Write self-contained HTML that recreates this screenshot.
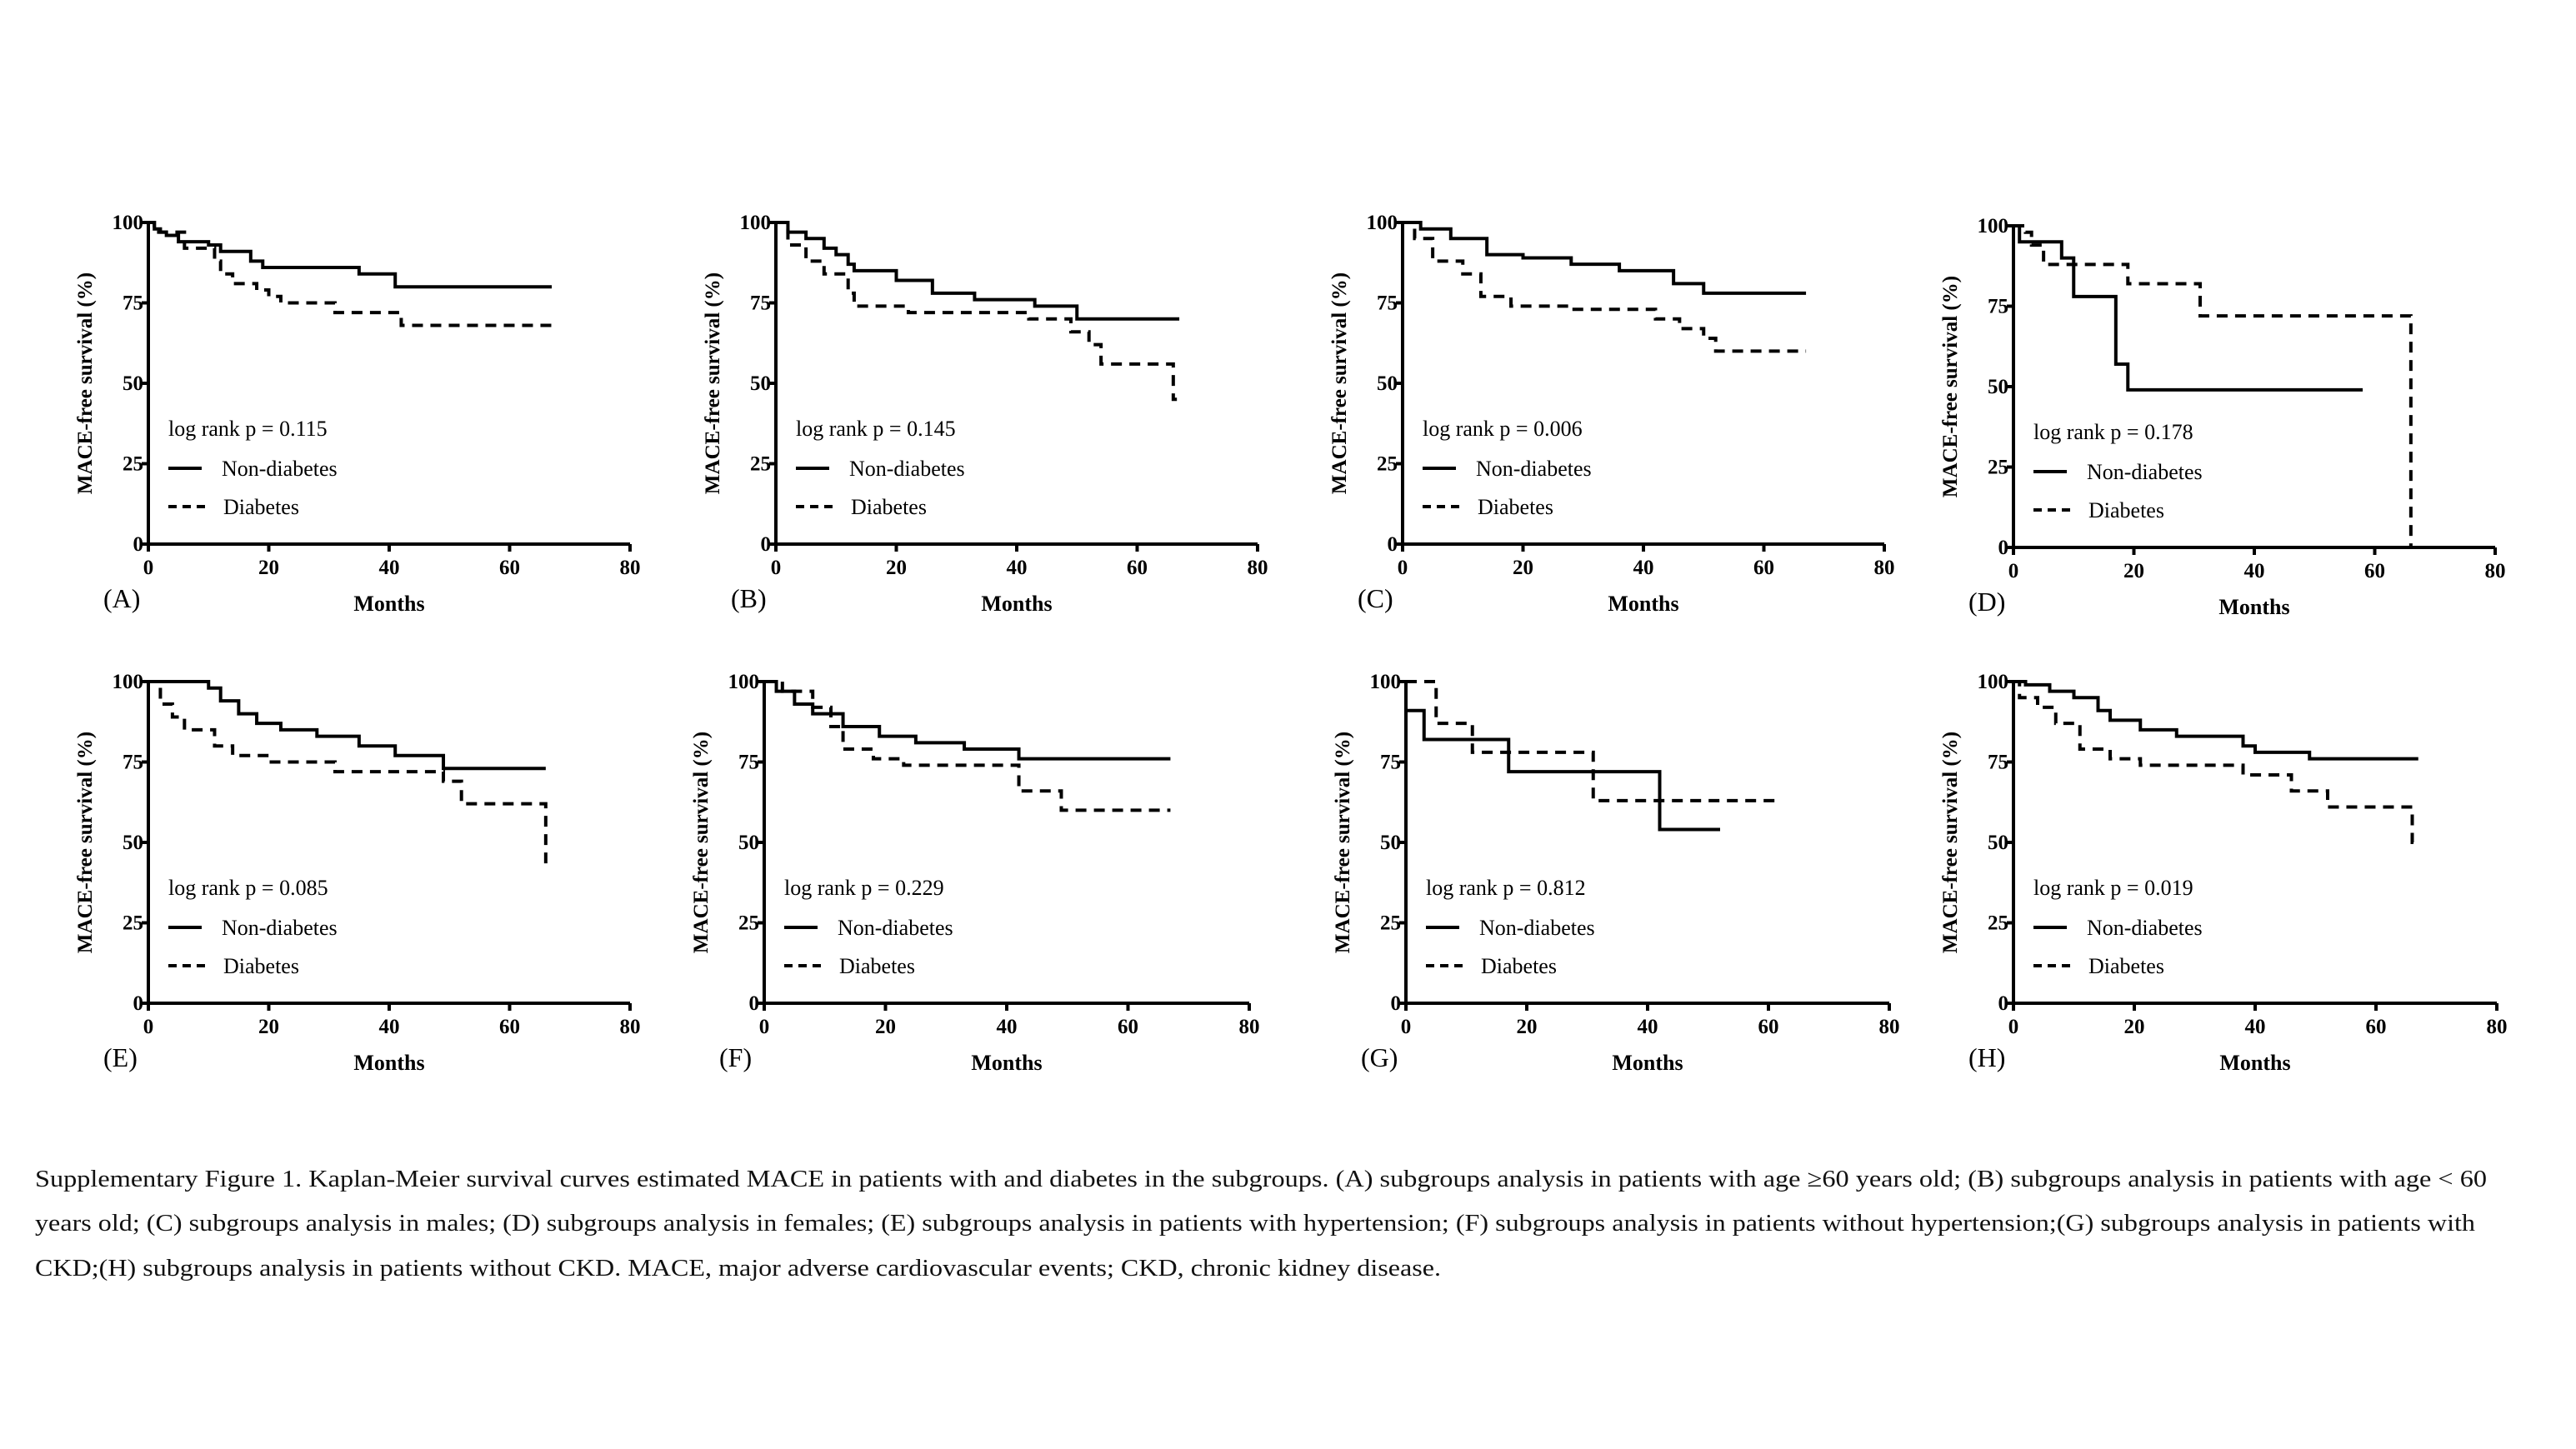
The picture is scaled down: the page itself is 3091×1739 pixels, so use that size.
<!DOCTYPE html>
<html><head><meta charset="utf-8"><style>
html,body{margin:0;padding:0;background:#fff;}
svg{display:block;font-family:"Liberation Serif","Noto Serif CJK SC",serif;}
</style></head><body>
<svg id="fig" width="3091" height="1739" viewBox="0 0 3091 1739" xmlns="http://www.w3.org/2000/svg">
<rect width="3091" height="1739" fill="#fff"/>
<g id="panels"></g>
<g font-size="29" fill="#111">
<text x="42" y="1424" textLength="2942" lengthAdjust="spacingAndGlyphs">Supplementary Figure 1. Kaplan-Meier survival curves estimated MACE in patients with and diabetes in the subgroups. (A) subgroups analysis in patients with age ≥60 years old; (B) subgroups analysis in patients with age &lt; 60</text>
<text x="42" y="1477" textLength="2928" lengthAdjust="spacingAndGlyphs">years old; (C) subgroups analysis in males; (D) subgroups analysis in females; (E) subgroups analysis in patients with hypertension; (F) subgroups analysis in patients without hypertension;(G) subgroups analysis in patients with</text>
<text x="42" y="1531" textLength="1687" lengthAdjust="spacingAndGlyphs">CKD;(H) subgroups analysis in patients without CKD. MACE, major adverse cardiovascular events; CKD, chronic kidney disease.</text>
</g>
</svg>
<script>
const panelLabels=["(A)","(B)","(C)","(D)","(E)","(F)","(G)","(H)"];
const pValues=["0.115","0.145","0.006","0.178","0.085","0.229","0.812","0.019"];
const xTicks=[0,20,40,60,80];
const yTicks=[0,25,50,75,100];
const nonT=[
[0,1,2,3,5,10,12,17,19,35,41,67],
[0,2,5,8,10,12,13,20,26,33,43,50,67],
[0,3,8,14,20,28,36,45,50,67],
[0,1,8,10,17,19,58],
[0,10,12,15,18,22,28,35,41,49,66],
[0,2,5,8,13,19,25,33,42,67],
[0,3,17,42,52],
[0,2,6,10,14,16,21,27,38,40,49,67]];
const nonS=[
[100,98,97,96,94,93,91,88,86,84,80,80],
[100,97,95,92,90,87,85,82,78,76,74,70,70],
[100,98,95,90,89,87,85,81,78,78],
[100,95,90,78,57,49,49],
[100,98,94,90,87,85,83,80,77,73,73],
[100,97,93,90,86,83,81,79,76,76],
[91,82,72,54,54],
[100,99,97,95,91,88,85,83,80,78,76,76]];
const diaT=[
[0,1,6,11,12,14,18,20,22,31,42,67],
[0,2,5,8,12,13,22,42,49,52,54,66,66.6],
[0,2,5,10,13,18,28,42,46,50,52,67],
[0,2,3,5,19,31,66],
[0,2,4,6,11,14,20,31,49,52,66,66.3],
[0,3,8,11,13,18,23,42,49,67],
[0,5,11,31,62],
[0,1,4,7,11,16,21,38,46,52,66,67]];
const diaS=[
[100,97,92,88,84,81,79,77,75,72,68,68],
[100,93,88,84,78,74,72,70,66,62,56,45,45],
[100,95,88,84,77,74,73,70,67,64,60,60],
[100,98,94,88,82,72,0],
[100,93,89,85,80,77,75,72,69,62,42,42],
[100,97,92,86,79,76,74,66,60,60],
[100,87,78,63,63],
[100,95,92,87,79,76,74,71,66,61,50,50]];
const frames=[[178,756,653,267],[931,1509,653,267],[1683,2261,653,267],[2416,2994,657,271],
[178,756,1204,818],[917,1499,1204,818],[1687,2267,1204,818],[2416,2996,1204,818]];
const NS="http://www.w3.org/2000/svg";
const root=document.getElementById('panels');
function mk(tag,attrs,parent,txt){const e=document.createElementNS(NS,tag);for(const k in attrs)e.setAttribute(k,attrs[k]);if(txt!==undefined)e.textContent=txt;parent.appendChild(e);return e;}
frames.forEach((f,i)=>{
  const [x0,x1,y0,y1]=f;
  const sx=v=>x0+(x1-x0)*v/80, sy=v=>y0-(y0-y1)*v/100;
  const g=mk('g',{},root);
  
  
  const ax=mk('path',{d:`M${x0} ${y1} V${y0} H${x1}`,fill:'none',stroke:'#000','stroke-width':4},g);
  
  
  xTicks.forEach(t=>{
    mk('line',{x1:sx(t),x2:sx(t),y1:y0,y2:y0+9,stroke:'#000','stroke-width':4},g);
    const tl=mk('text',{x:sx(t),y:y0+36,'text-anchor':'middle','font-size':25,'font-weight':'bold'},g,t);
    
    
  });
  yTicks.forEach(t=>{
    mk('line',{x1:x0-8,x2:x0,y1:sy(t),y2:sy(t),stroke:'#000','stroke-width':4},g);
    const tl=mk('text',{x:x0-6,y:sy(t)+8,'text-anchor':'end','font-size':25,'font-weight':'bold'},g,t);
    
    
  });
  const yt=mk('text',{x:0,y:0,transform:`translate(${x0-68},${(y0+y1)/2}) rotate(-90)`,'text-anchor':'middle','font-size':25,'font-weight':'bold'},g,'MACE-free survival (%)');
  
  
  const xt=mk('text',{x:(x0+x1)/2,y:y0+80,'text-anchor':'middle','font-size':26,'font-weight':'bold'},g,'Months');
  
  
  const pl=mk('text',{x:x0-54,y:y0+76,'font-size':32},g,panelLabels[i]);
  
  
  function stepPath(T,S){let d=`M${sx(T[0])} ${sy(S[0])}`;for(let k=1;k<T.length;k++){d+=` H${sx(T[k])} V${sy(S[k])}`;}return d;}
  const c1=mk('path',{d:stepPath(nonT[i],nonS[i]),fill:'none',stroke:'#000','stroke-width':4},g);
  
  
  const c2=mk('path',{d:stepPath(diaT[i],diaS[i]),fill:'none',stroke:'#000','stroke-width':4,'stroke-dasharray':'13 9'},g);
  
  
  const lx=x0+24;
  const pt=mk('text',{x:lx,y:y0-130,'font-size':26},g,'log rank p = '+pValues[i]);
  
  
  const lg=mk('g',{},g);
  
  
  mk('line',{x1:lx,x2:lx+40,y1:y0-91,y2:y0-91,stroke:'#000','stroke-width':4},lg);
  const t1=mk('text',{x:lx+64,y:y0-82,'font-size':26},lg,'Non-diabetes');
  
  
  mk('line',{x1:lx,x2:lx+44,y1:y0-45,y2:y0-45,stroke:'#000','stroke-width':4,'stroke-dasharray':'10 7'},lg);
  const t2=mk('text',{x:lx+66,y:y0-36,'font-size':26},lg,'Diabetes');
  
  
});
</script>
</body></html>
